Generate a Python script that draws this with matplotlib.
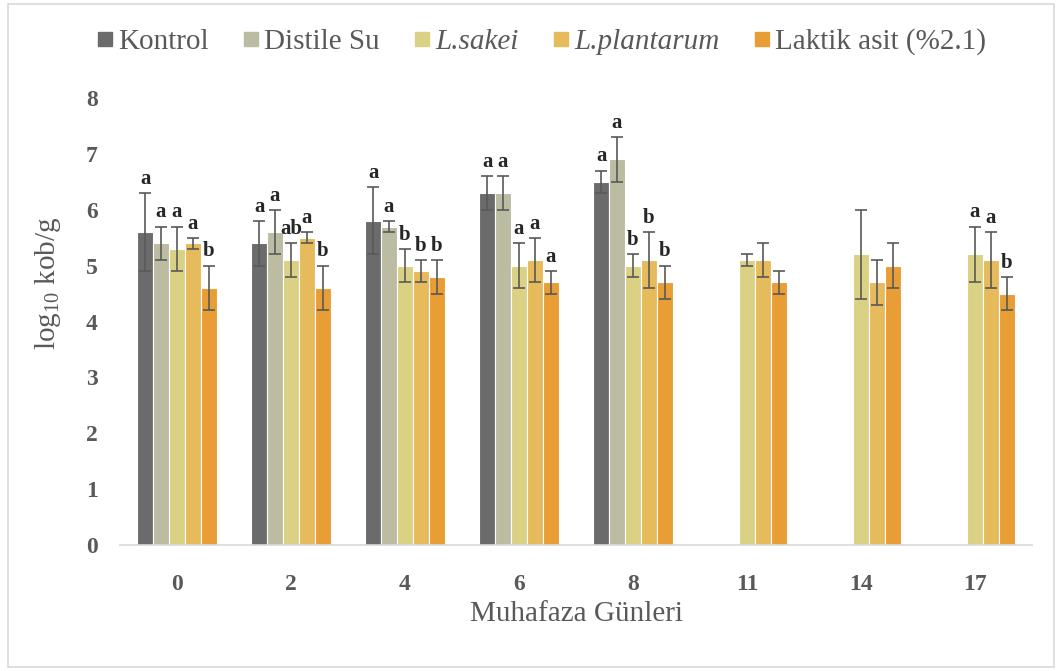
import matplotlib
matplotlib.use("Agg")
import matplotlib.pyplot as plt
import numpy as np
from matplotlib.patches import Rectangle
from matplotlib.lines import Line2D

plt.rcParams['font.family'] = ['Liberation Serif', 'DejaVu Serif']
plt.rcParams['mathtext.fontset'] = 'stix'

days = ['0', '2', '4', '6', '8', '11', '14', '17']
series = ['Kontrol', 'Distile Su', 'L.sakei', 'L.plantarum', 'Laktik asit (%2.1)']
colors = ['#6b6b6b', '#bcbca2', '#dbd184', '#e6bb5c', '#e89d35']

kontrol     = [5.6, 5.4, 5.8, 6.3, 6.5, np.nan, np.nan, np.nan]
distile     = [5.4, 5.6, 5.7, 6.3, 6.9, np.nan, np.nan, np.nan]
sakei       = [5.3, 5.1, 5.0, 5.0, 5.0, 5.1, 5.2, 5.2]
plantarum   = [5.4, 5.5, 4.9, 5.1, 5.1, 5.1, 4.7, 5.1]
laktik      = [4.6, 4.6, 4.8, 4.7, 4.7, 4.7, 5.0, 4.5]

kontrol_err   = [0.7, 0.4, 0.6, 0.3, 0.2, np.nan, np.nan, np.nan]
distile_err   = [0.3, 0.4, 0.1, 0.3, 0.4, np.nan, np.nan, np.nan]
sakei_err     = [0.4, 0.3, 0.3, 0.4, 0.2, 0.1, 0.8, 0.5]
plantarum_err = [0.1, 0.1, 0.2, 0.4, 0.5, 0.3, 0.4, 0.5]
laktik_err    = [0.4, 0.4, 0.3, 0.2, 0.3, 0.2, 0.4, 0.3]

kontrol_lbl   = ['a', 'a', 'a', 'a', 'a', '', '', '']
distile_lbl   = ['a', 'a', 'a', 'a', 'a', '', '', '']
sakei_lbl     = ['a', 'ab', 'b', 'a', 'b', '', '', 'a']
plantarum_lbl = ['a', 'a', 'b', 'a', 'b', '', '', 'a']
laktik_lbl    = ['b', 'b', 'b', 'a', 'b', '', '', 'b']

values = [kontrol, distile, sakei, plantarum, laktik]
errors = [kontrol_err, distile_err, sakei_err, plantarum_err, laktik_err]
labels = [kontrol_lbl, distile_lbl, sakei_lbl, plantarum_lbl, laktik_lbl]

txt = '#595959'
fig = plt.figure(figsize=(10.59, 6.71), dpi=100)
ax = fig.add_axes([120/1059, (671-545)/671, (1032-120)/1059, (545-98)/671])

x = np.arange(len(days))
bw = 0.14
for i, (v, e, lb, c) in enumerate(zip(values, errors, labels, colors)):
    pos = x + (i - 2) * bw
    ax.bar(pos, v, bw, color=c, edgecolor='white', linewidth=0.8, zorder=2)
    ax.errorbar(pos, v, yerr=e, fmt='none', ecolor='#595959', elinewidth=1.2,
                capsize=4, capthick=1.2, zorder=3)
    for p, vv, ee, l in zip(pos, v, e, lb):
        if l and not np.isnan(vv):
            ax.annotate(l, (p, vv + ee), xytext=(0, 3), textcoords='offset points',
                        ha='center', va='bottom', fontsize=15, color='#262626',
                        fontweight='bold', zorder=4)

ax.set_xlim(-0.5, len(days) - 0.5)
ax.set_ylim(0, 8)
ax.set_xticks(x)
ax.set_xticklabels(days)
ax.set_yticks(range(0, 9))
for s in ['top', 'right', 'left']:
    ax.spines[s].set_visible(False)
ax.spines['bottom'].set_color('#d9d9d9')
ax.spines['bottom'].set_linewidth(1.2)
ax.tick_params(axis='both', length=0, labelsize=17, labelcolor=txt)
ax.tick_params(axis='x', pad=21)
ax.tick_params(axis='y', pad=16)
for t in ax.get_xticklabels() + ax.get_yticklabels():
    t.set_fontweight('bold')

ax.set_xlabel('Muhafaza Günleri', fontsize=21, color=txt, labelpad=4)
ax.set_ylabel(r'$\mathregular{log_{10}}$ kob/g', fontsize=21, color=txt)
ax.yaxis.set_label_coords(-0.062, (545-283)/(545-98))

handles = [Line2D([0], [0], marker='s', linestyle='none', markersize=10,
                  markerfacecolor=c, markeredgecolor=c) for c in colors]
leg = fig.legend(handles, series, loc='center', bbox_to_anchor=(541/1059, 1 - 42/671),
                 ncol=5, frameon=False, fontsize=21, handlelength=0.6,
                 handletextpad=0.15, columnspacing=1.15, borderaxespad=0)
for t, s in zip(leg.get_texts(), series):
    t.set_color(txt)
    if s.startswith('L.'):
        t.set_fontstyle('italic')

fig.patches.append(Rectangle((8/1059, 4/671), (1054-8)/1059, (667-4)/671,
                             transform=fig.transFigure, fill=False,
                             edgecolor='#d9d9d9', linewidth=1.2))

fig.savefig('out.png', dpi=100)
